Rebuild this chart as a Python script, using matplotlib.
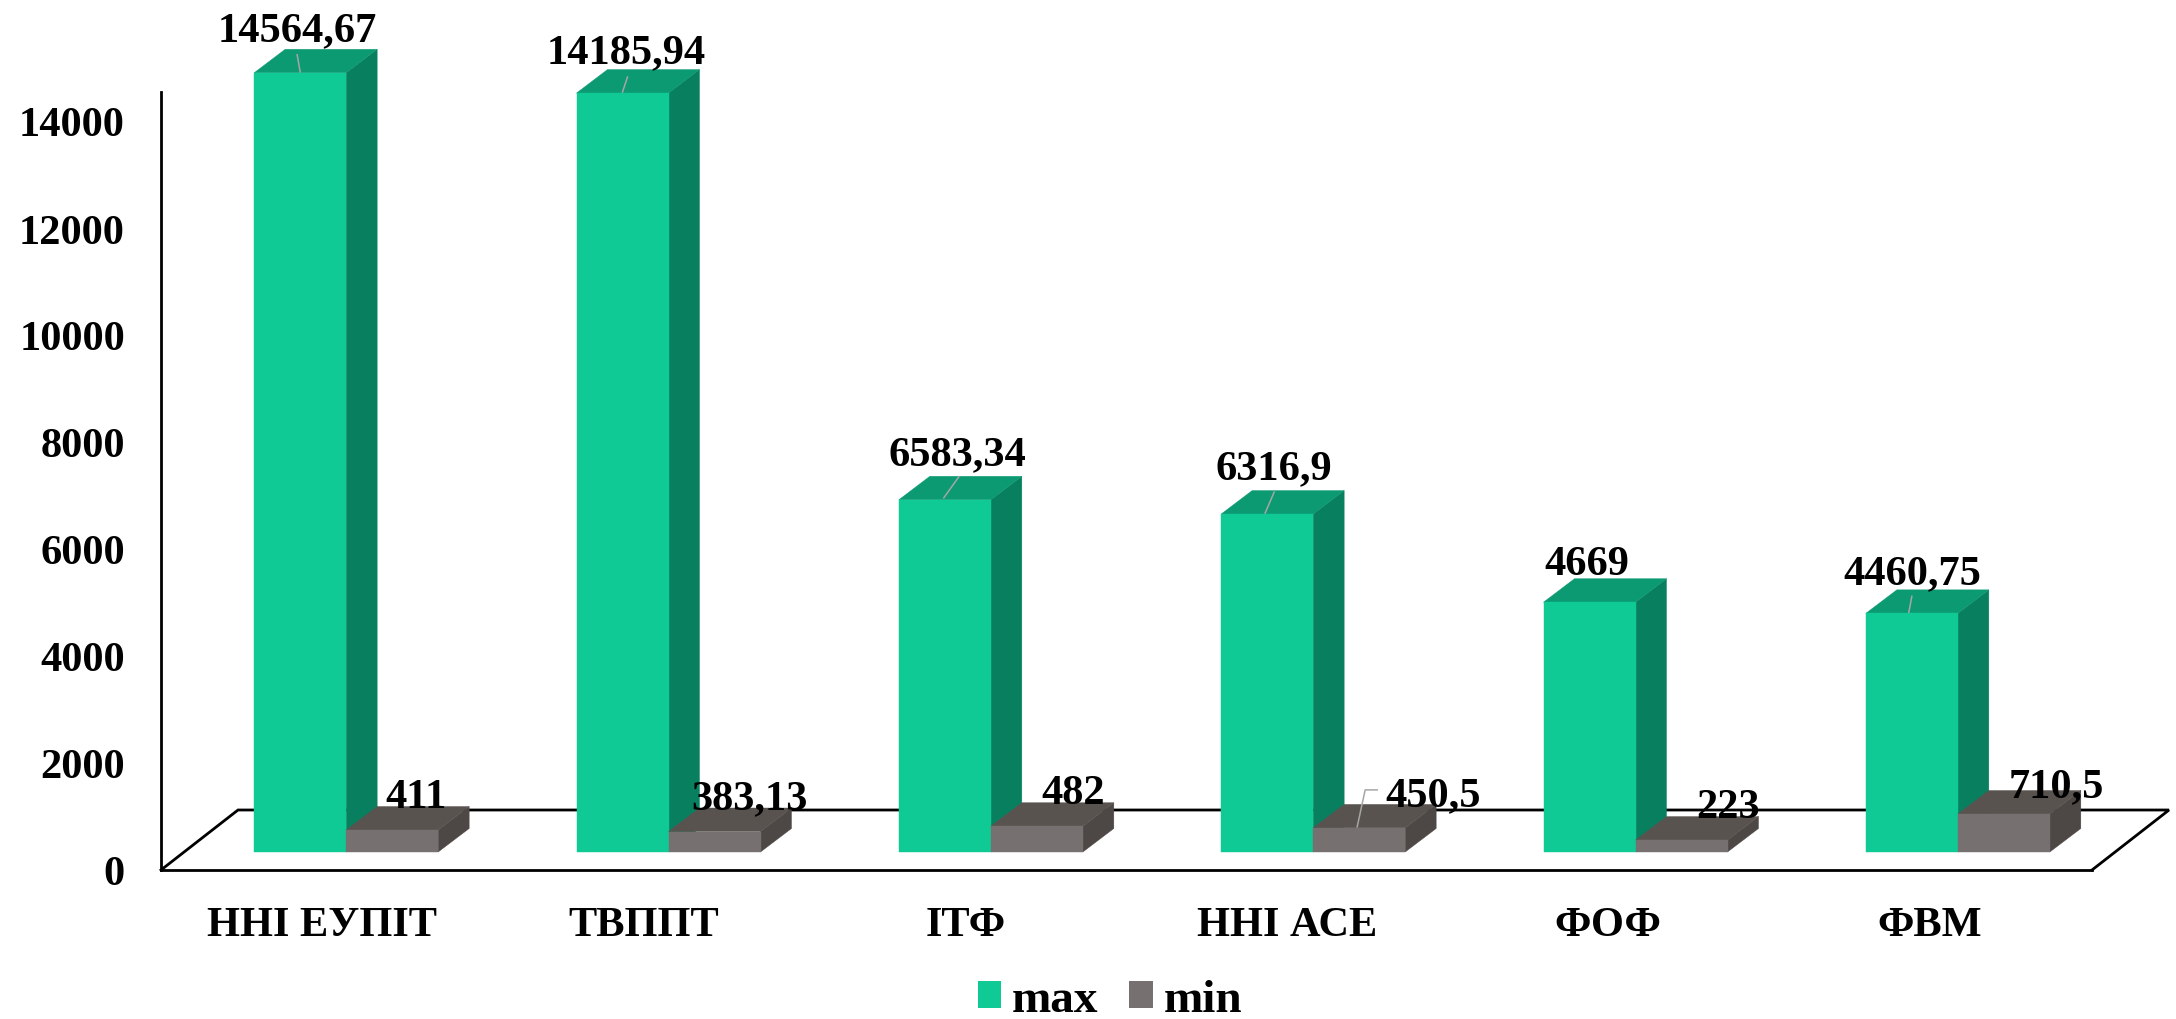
import matplotlib
matplotlib.use("Agg")
import matplotlib.pyplot as plt
from matplotlib.patches import Polygon, Patch
from matplotlib.transforms import IdentityTransform

plt.rcParams['font.family'] = ['Liberation Serif', 'DejaVu Serif']
plt.rcParams['font.weight'] = 'bold'

categories = ['ННІ ЕУПІТ', 'ТВППТ', 'ІТФ', 'ННІ АСЕ', 'ФОФ', 'ФВМ']
max_values = [14564.67, 14185.94, 6583.34, 6316.9, 4669, 4460.75]
min_values = [411, 383.13, 482, 450.5, 223, 710.5]
max_labels = ['14564,67', '14185,94', '6583,34', '6316,9', '4669', '4460,75']
min_labels = ['411', '383,13', '482', '450,5', '223', '710,5']
y_ticks = [0, 2000, 4000, 6000, 8000, 10000, 12000, 14000]

# label offsets from the top of the bar, in pixels
max_label_off = [(-3, 43), (4, 41), (13, 46), (7, 46), (-3, 38), (0, 40)]
min_label_off = [(24, 33), (35, 33), (36, 33), (74, 33), (47, 33), (52, 28)]
# leader lines, bar index -> pixel offsets
max_leaders = {0: [(-3, 18), (0, 1)], 1: [(5, 16), (0, 1)], 2: [(14, 23), (-1, 2)],
               3: [(7, 22), (-2, 1)], 5: [(0, 17), (-3, 1)]}
min_leaders = {3: [(18, 38), (6, 38), (-2, 1)]}

W, H = 2176, 1020
fig = plt.figure(figsize=(W / 100, H / 100), dpi=100, facecolor='white')
# plot box in pixels: x 161..2095, y 871 (bottom)..93 (top)
ax = fig.add_axes([161 / W, (H - 871) / H, (2095 - 161) / W, (871 - 93) / H])
ax.set_xlim(-0.5, 5.5)
ax.set_ylim(0, 778 / 0.0535)

px_x = 6 / (2095 - 161)      # data units per pixel
px_y = (778 / 0.0535) / 778

shift_x = 24 * px_x          # bars stand further back than the front of the floor
shift_y = 18 * px_y
bar_w = 92 * px_x
depth_x = 31 * px_x
depth_y = 23.5 * px_y
floor_end = 5.5 - 3 * px_x


def draw_bar(x0, v, front, top, side, z):
    y0 = shift_y
    y1 = shift_y + v
    x1 = x0 + bar_w
    ax.add_patch(Polygon([(x1, y0), (x1 + depth_x, y0 + depth_y), (x1 + depth_x, y1 + depth_y), (x1, y1)],
                         closed=True, fc=side, ec=side, lw=0.3, clip_on=False, zorder=z))
    ax.add_patch(Polygon([(x0, y1), (x1, y1), (x1 + depth_x, y1 + depth_y), (x0 + depth_x, y1 + depth_y)],
                         closed=True, fc=top, ec=top, lw=0.3, clip_on=False, zorder=z))
    ax.add_patch(Polygon([(x0, y0), (x1, y0), (x1, y1), (x0, y1)],
                         closed=True, fc=front, ec=front, lw=0.3, clip_on=False, zorder=z))


def draw_leader(x, y, pts):
    bx, by = ax.transData.transform((x, y))
    ax.plot([bx + p[0] for p in pts], [by + p[1] for p in pts], color='#A6A6A6', lw=1.1,
            transform=IdentityTransform(), clip_on=False, zorder=8)


# floor
floor_x = 77 * px_x
floor_y = 60 * px_y
ax.plot([-0.5, -0.5 + floor_x, floor_end + floor_x, floor_end], [0, floor_y, floor_y, 0],
        color='black', lw=2, clip_on=False, zorder=1, solid_joinstyle='miter')

for i in range(len(categories)):
    left = i + shift_x - bar_w
    draw_bar(left, max_values[i], '#10CA96', '#0C9A73', '#088060', 3 + i * 0.1)
    draw_bar(i + shift_x, min_values[i], '#767170', '#595350', '#4D4845', 3.05 + i * 0.1)

    mx = left + bar_w / 2
    my = shift_y + max_values[i]
    nx = i + shift_x + bar_w / 2
    ny = shift_y + min_values[i]
    ax.annotate(max_labels[i], (mx, my), xytext=max_label_off[i], textcoords='offset pixels',
                ha='center', va='center', fontsize=30.5, color='black', zorder=9, annotation_clip=False)
    ax.annotate(min_labels[i], (nx, ny), xytext=min_label_off[i], textcoords='offset pixels',
                ha='center', va='center', fontsize=30.5, color='black', zorder=9, annotation_clip=False)
    if i in max_leaders:
        draw_leader(mx, my, max_leaders[i])
    if i in min_leaders:
        draw_leader(nx, ny, min_leaders[i])

# category labels sit slightly tighter than the bars
ax.set_xticks([i * 0.9975 for i in range(len(categories))])
ax.set_xticklabels(categories)
ax.set_yticks(y_ticks)
ax.tick_params(axis='x', length=0, pad=26, labelsize=30.5)
ax.tick_params(axis='y', length=0, pad=26, labelsize=30.5)
for s in ['top', 'right']:
    ax.spines[s].set_visible(False)
ax.spines['left'].set_linewidth(2)
ax.spines['bottom'].set_linewidth(2)
ax.spines['bottom'].set_bounds(-0.5, floor_end)
ax.patch.set_alpha(0)

handles = [Patch(fc='#10CA96', label='max'), Patch(fc='#767170', label='min')]
fig.legend(handles=handles, loc='center', bbox_to_anchor=(1110 / W, (H - 1001) / H), ncol=2, frameon=False,
           fontsize=34, handlelength=0.5, handleheight=0.5, handletextpad=0.23, columnspacing=0.65,
           borderpad=0, borderaxespad=0)

plt.savefig('out.png', dpi=100)
